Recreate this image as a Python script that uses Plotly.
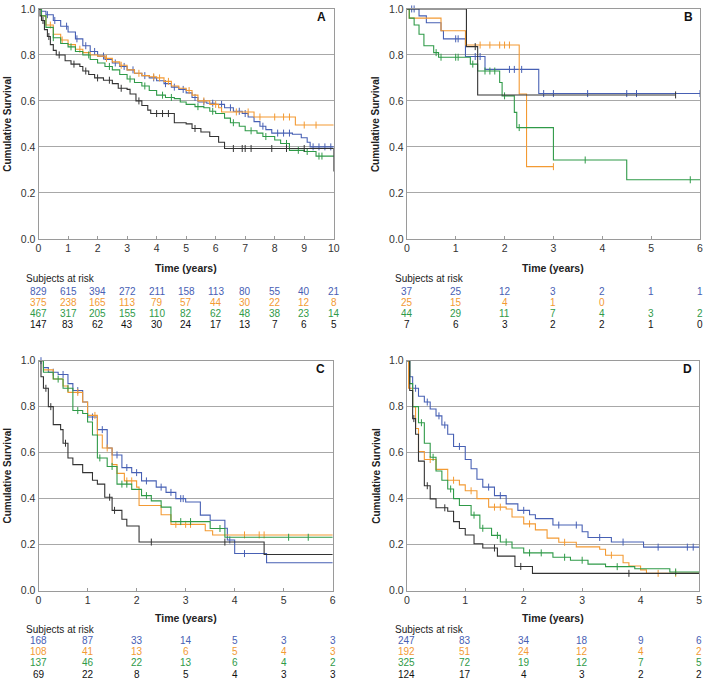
import plotly.graph_objects as go

W, H = 709, 685
BLUE = "#4760B4"
ORANGE = "#F39A33"
GREEN = "#2F9A48"
BLACK = "#333333"
COLORS = [BLUE, ORANGE, GREEN, BLACK]
FONT = "Arial, Liberation Sans, sans-serif"

# ---------------- Panel A ----------------
a_blue_t = [0, 0.1, 0.25, 0.5, 0.75, 1.0, 1.25, 1.5, 1.75, 2.0, 2.25, 2.5, 2.75, 3.0, 3.25, 3.5, 3.75, 4.0, 4.25, 4.5, 4.75, 5.0, 5.2, 5.4, 5.7, 6.0, 6.3, 6.6, 6.9, 7.1, 7.3, 7.5, 7.7, 7.9, 8.6, 8.9, 9.1, 9.2, 10.0]
a_blue_s = [1.0, 0.99, 0.975, 0.95, 0.925, 0.90, 0.87, 0.84, 0.815, 0.795, 0.78, 0.765, 0.75, 0.735, 0.72, 0.71, 0.70, 0.688, 0.675, 0.66, 0.65, 0.635, 0.615, 0.595, 0.59, 0.585, 0.57, 0.555, 0.545, 0.53, 0.51, 0.49, 0.475, 0.46, 0.455, 0.44, 0.42, 0.40, 0.40]
a_blue_c = [0.3, 0.55, 0.95, 1.3, 1.6, 1.9, 2.2, 2.6, 2.9, 3.2, 3.6, 3.9, 4.3, 4.6, 4.9, 5.3, 5.6, 5.9, 6.2, 6.5, 6.8, 7.0, 7.6, 8.1, 8.3, 8.5, 9.3, 9.5, 9.7, 9.9]
a_orange_t = [0, 0.1, 0.25, 0.5, 0.75, 1.0, 1.25, 1.5, 1.75, 2.0, 2.25, 2.5, 2.75, 3.0, 3.25, 3.5, 3.75, 4.0, 4.25, 4.5, 4.75, 5.0, 5.2, 5.4, 5.8, 6.1, 6.2, 7.3, 8.7, 10.0]
a_orange_s = [1.0, 0.97, 0.93, 0.89, 0.865, 0.845, 0.825, 0.81, 0.80, 0.795, 0.785, 0.77, 0.755, 0.735, 0.72, 0.71, 0.705, 0.70, 0.685, 0.665, 0.655, 0.645, 0.625, 0.60, 0.585, 0.57, 0.552, 0.53, 0.495, 0.495]
a_orange_c = [0.4, 0.8, 1.4, 2.3, 2.8, 3.4, 3.9, 4.1, 4.4, 5.1, 5.6, 6.0, 6.7, 7.1, 7.5, 8.0, 8.3, 8.5, 9.0, 9.4]
a_green_t = [0, 0.1, 0.25, 0.5, 0.75, 1.0, 1.25, 1.5, 1.75, 2.0, 2.25, 2.5, 2.75, 3.0, 3.25, 3.5, 3.75, 4.0, 4.3, 4.6, 4.8, 5.0, 5.3, 5.6, 5.8, 6.0, 6.3, 6.5, 6.8, 7.0, 7.4, 7.6, 8.0, 8.2, 8.5, 9.0, 9.4, 10.0]
a_green_s = [1.0, 0.97, 0.92, 0.875, 0.85, 0.835, 0.815, 0.80, 0.78, 0.765, 0.75, 0.735, 0.715, 0.695, 0.68, 0.665, 0.645, 0.625, 0.615, 0.61, 0.595, 0.585, 0.575, 0.57, 0.555, 0.545, 0.525, 0.505, 0.49, 0.47, 0.46, 0.445, 0.43, 0.415, 0.385, 0.38, 0.36, 0.357]
a_green_c = [0.5, 1.1, 1.7, 2.4, 3.1, 3.6, 4.2, 4.5, 5.4, 5.9, 6.6, 7.2, 7.7, 8.4, 8.8, 9.1, 9.5, 9.6]
a_black_t = [0, 0.05, 0.1, 0.2, 0.3, 0.4, 0.5, 0.6, 0.9, 1.1, 1.4, 1.5, 1.7, 1.9, 2.2, 2.5, 2.7, 3.0, 3.1, 3.3, 3.5, 3.7, 3.8, 4.6, 5.0, 5.2, 5.5, 5.8, 6.1, 6.3, 10.0]
a_black_s = [1.0, 0.97, 0.95, 0.91, 0.88, 0.845, 0.82, 0.80, 0.775, 0.76, 0.75, 0.73, 0.715, 0.70, 0.69, 0.675, 0.655, 0.65, 0.63, 0.60, 0.58, 0.56, 0.545, 0.505, 0.50, 0.48, 0.465, 0.445, 0.42, 0.393, 0.293]
a_black_c = [0.15, 0.35, 0.7, 1.2, 1.6, 2.0, 2.4, 2.8, 3.4, 4.0, 4.2, 4.4, 5.3, 6.6, 6.9, 7.0, 7.2, 7.9, 8.4, 9.0]
a_ticks = [0, 1, 2, 3, 4, 5, 6, 7, 8, 9, 10]
a_risk_blue = [829, 615, 394, 272, 211, 158, 113, 80, 55, 40, 21]
a_risk_orange = [375, 238, 165, 113, 79, 57, 44, 30, 22, 12, 8]
a_risk_green = [467, 317, 205, 155, 110, 82, 62, 48, 38, 23, 14]
a_risk_black = [147, 83, 62, 43, 30, 24, 17, 13, 7, 6, 5]

# ---------------- Panel B ----------------
b_blue_t = [0, 0.25, 0.4, 0.7, 0.75, 1.2, 1.6, 2.7, 6.0]
b_blue_s = [1.0, 0.97, 0.94, 0.905, 0.87, 0.793, 0.737, 0.632, 0.632]
b_blue_c = [0.1, 0.15, 1.0, 1.05, 1.4, 1.5, 2.1, 2.2, 2.35, 2.8, 3.0, 3.7, 4.5, 4.7, 6.0]
b_orange_t = [0, 0.05, 0.7, 1.2, 2.3, 2.45, 3.0]
b_orange_s = [1.0, 0.96, 0.905, 0.843, 0.63, 0.314, 0.314]
b_orange_c = [1.5, 1.7, 1.9, 2.0, 2.1, 3.0]
b_green_t = [0, 0.05, 0.15, 0.25, 0.35, 0.55, 0.65, 1.3, 1.45, 1.9, 1.95, 2.2, 2.25, 3.0, 4.5, 6.0]
b_green_s = [1.0, 0.96, 0.93, 0.89, 0.84, 0.81, 0.79, 0.76, 0.73, 0.68, 0.622, 0.55, 0.484, 0.343, 0.257, 0.257]
b_green_c = [0.6, 0.7, 1.0, 1.05, 1.35, 1.6, 1.7, 1.8, 2.0, 2.3, 3.65, 5.8]
b_black_t = [0, 1.22, 1.45, 5.5]
b_black_s = [1.0, 0.836, 0.626, 0.626]
b_black_c = [1.4, 5.5]
b_ticks = [0, 1, 2, 3, 4, 5, 6]
b_risk_blue = [37, 25, 12, 3, 2, 1, 1]
b_risk_orange = [25, 15, 4, 1, 0]
b_risk_green = [44, 29, 11, 7, 4, 3, 2]
b_risk_black = [7, 6, 3, 2, 2, 1, 0]

# ---------------- Panel C ----------------
c_blue_t = [0, 0.1, 0.2, 0.4, 0.6, 0.7, 0.9, 1.0, 1.2, 1.4, 1.5, 1.7, 1.9, 2.1, 2.4, 2.6, 2.8, 3.0, 3.3, 3.5, 3.8, 3.85, 4.0, 4.65, 6.0]
c_blue_s = [1.0, 0.97, 0.95, 0.94, 0.90, 0.87, 0.82, 0.755, 0.70, 0.62, 0.59, 0.535, 0.513, 0.477, 0.45, 0.427, 0.40, 0.385, 0.328, 0.306, 0.271, 0.22, 0.161, 0.121, 0.121]
c_blue_c = [0.05, 0.3, 0.5, 0.8, 1.1, 1.3, 1.6, 1.8, 2.0, 2.2, 2.5, 2.7, 2.9, 2.95, 3.9, 4.2]
c_orange_t = [0, 0.1, 0.3, 0.5, 0.6, 0.9, 1.0, 1.2, 1.3, 1.5, 1.6, 1.75, 2.0, 2.05, 2.5, 2.7, 3.4, 3.55, 6.0]
c_orange_s = [1.0, 0.96, 0.92, 0.89, 0.862, 0.82, 0.762, 0.677, 0.62, 0.548, 0.51, 0.477, 0.45, 0.37, 0.33, 0.288, 0.26, 0.242, 0.242]
c_orange_c = [0.8, 1.15, 1.4, 1.8, 1.9, 2.8, 3.0, 3.1, 4.2, 4.5, 4.6]
c_green_t = [0, 0.1, 0.3, 0.5, 0.7, 0.9, 1.0, 1.1, 1.2, 1.4, 1.6, 1.9, 2.1, 2.3, 2.5, 2.7, 3.5, 3.8, 6.0]
c_green_s = [1.0, 0.95, 0.92, 0.88, 0.783, 0.77, 0.733, 0.677, 0.577, 0.54, 0.463, 0.44, 0.413, 0.39, 0.363, 0.30, 0.27, 0.232, 0.232]
c_green_c = [0.4, 0.6, 0.8, 1.25, 1.5, 1.7, 1.8, 2.2, 2.9, 3.1, 3.7, 5.1, 5.5]
c_black_t = [0, 0.05, 0.1, 0.2, 0.3, 0.45, 0.5, 0.6, 0.7, 0.9, 1.1, 1.2, 1.35, 1.5, 1.7, 1.8, 2.05, 4.6, 6.0]
c_black_s = [1.0, 0.93, 0.88, 0.80, 0.722, 0.70, 0.641, 0.577, 0.548, 0.513, 0.48, 0.463, 0.406, 0.349, 0.31, 0.281, 0.211, 0.157, 0.157]
c_black_c = [0.15, 0.25, 0.55, 1.45, 1.55, 2.3, 3.8]
c_ticks = [0, 1, 2, 3, 4, 5, 6]
c_risk_blue = [168, 87, 33, 14, 5, 3, 3]
c_risk_orange = [108, 41, 13, 6, 5, 4, 3]
c_risk_green = [137, 46, 22, 13, 6, 4, 2]
c_risk_black = [69, 22, 8, 5, 4, 3, 3]

# ---------------- Panel D ----------------
d_blue_t = [0, 0.05, 0.1, 0.2, 0.3, 0.4, 0.5, 0.6, 0.7, 0.8, 1.0, 1.1, 1.2, 1.3, 1.5, 1.7, 1.9, 2.1, 2.2, 2.5, 3.0, 3.1, 3.5, 4.05, 5.0]
d_blue_s = [1.0, 0.93, 0.88, 0.845, 0.82, 0.79, 0.76, 0.72, 0.68, 0.627, 0.57, 0.53, 0.484, 0.45, 0.413, 0.377, 0.349, 0.33, 0.313, 0.285, 0.256, 0.231, 0.211, 0.189, 0.189]
d_blue_c = [0.15, 0.35, 0.55, 0.65, 0.9, 1.4, 1.6, 2.0, 2.6, 2.9, 3.3, 3.7, 4.3, 4.8, 4.9]
d_orange_t = [0, 0.03, 0.1, 0.15, 0.2, 0.3, 0.5, 0.7, 0.9, 1.0, 1.2, 1.4, 1.7, 1.8, 2.0, 2.2, 2.4, 2.6, 2.9, 3.3, 3.4, 3.7, 3.8, 4.0, 4.1, 5.0]
d_orange_s = [1.0, 0.88, 0.80, 0.705, 0.605, 0.57, 0.527, 0.48, 0.46, 0.434, 0.40, 0.363, 0.355, 0.32, 0.29, 0.264, 0.228, 0.21, 0.19, 0.18, 0.154, 0.121, 0.107, 0.09, 0.075, 0.075]
d_orange_c = [0.4, 0.8, 1.1, 1.5, 1.6, 2.1, 2.7, 3.5, 4.3, 4.6]
d_green_t = [0, 0.05, 0.1, 0.2, 0.3, 0.4, 0.5, 0.6, 0.7, 0.8, 0.9, 1.1, 1.25, 1.45, 1.6, 1.8, 2.0, 2.5, 2.8, 3.1, 3.4, 3.9, 4.5, 5.0]
d_green_s = [1.0, 0.90, 0.80, 0.73, 0.641, 0.58, 0.52, 0.48, 0.442, 0.40, 0.37, 0.328, 0.271, 0.24, 0.211, 0.185, 0.164, 0.145, 0.132, 0.115, 0.104, 0.095, 0.081, 0.081]
d_green_c = [0.25, 0.45, 0.75, 1.15, 1.3, 1.55, 1.7, 2.1, 2.3, 2.7, 3.0, 3.6, 4.6]
d_black_t = [0, 0.05, 0.1, 0.15, 0.2, 0.3, 0.4, 0.5, 0.7, 0.8, 0.9, 1.0, 1.15, 1.3, 1.55, 1.85, 2.15, 5.0]
d_black_s = [1.0, 0.87, 0.748, 0.68, 0.563, 0.456, 0.399, 0.36, 0.345, 0.30, 0.27, 0.242, 0.204, 0.185, 0.15, 0.105, 0.075, 0.075]
d_black_c = [0.12, 0.35, 0.65, 1.5, 1.95, 3.8]
d_ticks = [0, 1, 2, 3, 4, 5]
d_risk_blue = [247, 83, 34, 18, 9, 6]
d_risk_orange = [192, 51, 24, 12, 4, 2]
d_risk_green = [325, 72, 19, 12, 7, 5]
d_risk_black = [124, 17, 4, 3, 2, 2]


def step_value(ts, ss, t):
    v = ss[0]
    for ti, si in zip(ts, ss):
        if ti <= t:
            v = si
    return v


panels = [
    dict(name="A", xmax=10, ticks=a_ticks,
         curves=[(a_blue_t, a_blue_s, a_blue_c), (a_orange_t, a_orange_s, a_orange_c),
                 (a_green_t, a_green_s, a_green_c), (a_black_t, a_black_s, a_black_c)],
         risk=[a_risk_blue, a_risk_orange, a_risk_green, a_risk_black],
         px=(36, 335), py=(3, 237), risk_label_x=22, risk_y=(267, 277.5, [291, 302, 313, 324])),
    dict(name="B", xmax=6, ticks=b_ticks,
         curves=[(b_blue_t, b_blue_s, b_blue_c), (b_orange_t, b_orange_s, b_orange_c),
                 (b_green_t, b_green_s, b_green_c), (b_black_t, b_black_s, b_black_c)],
         risk=[b_risk_blue, b_risk_orange, b_risk_green, b_risk_black],
         px=(409, 706), py=(3, 237), risk_label_x=396, risk_y=(267, 277.5, [291, 302, 313, 324])),
    dict(name="C", xmax=6, ticks=c_ticks,
         curves=[(c_blue_t, c_blue_s, c_blue_c), (c_orange_t, c_orange_s, c_orange_c),
                 (c_green_t, c_green_s, c_green_c), (c_black_t, c_black_s, c_black_c)],
         risk=[c_risk_blue, c_risk_orange, c_risk_green, c_risk_black],
         px=(36, 334), py=(361, 595), risk_label_x=22, risk_y=(623, 635, [646, 657, 668.5, 680])),
    dict(name="D", xmax=5, ticks=d_ticks,
         curves=[(d_blue_t, d_blue_s, d_blue_c), (d_orange_t, d_orange_s, d_orange_c),
                 (d_green_t, d_green_s, d_green_c), (d_black_t, d_black_s, d_black_c)],
         risk=[d_risk_blue, d_risk_orange, d_risk_green, d_risk_black],
         px=(409, 705), py=(361, 595), risk_label_x=396, risk_y=(623, 635, [646, 657, 668.5, 680])),
]

fig = go.Figure()
annotations = []
layout_axes = {}


def yp(p):
    return 1 - p / H


for i, p in enumerate(panels):
    k = "" if i == 0 else str(i + 1)
    xa, ya = "x" + k, "y" + k
    for (ts, ss, cs), col in zip(p["curves"], COLORS):
        fig.add_trace(go.Scatter(x=ts, y=ss, mode="lines", line=dict(color=col, width=1.1, shape="hv"),
                                 xaxis=xa, yaxis=ya, showlegend=False, hoverinfo="skip", cliponaxis=False))
        fig.add_trace(go.Scatter(x=cs, y=[step_value(ts, ss, c) for c in cs], mode="markers",
                                 marker=dict(symbol="line-ns", size=5, line=dict(color=col, width=1)),
                                 xaxis=xa, yaxis=ya, showlegend=False, hoverinfo="skip", cliponaxis=False))
    x0, x1 = p["px"]
    y0, y1 = p["py"]
    layout_axes["xaxis" + k] = dict(
        domain=[x0 / W, x1 / W], anchor=ya, range=[0, p["xmax"]], tickvals=p["ticks"],
        showgrid=False, zeroline=False, showline=True, linecolor="#9a9a9a", linewidth=1, mirror=True,
        ticks="inside", ticklen=3, tickcolor="#9a9a9a",
        tickfont=dict(family=FONT, size=10.5, color="#333333"))
    layout_axes["yaxis" + k] = dict(
        domain=[yp(y1), yp(y0)], anchor=xa, range=[0, 1.0], tickvals=[0, 0.2, 0.4, 0.6, 0.8, 1.0],
        tickformat=".1f", showgrid=True, gridcolor="#a8a8a8", gridwidth=1, zeroline=False,
        showline=True, linecolor="#9a9a9a", linewidth=1, mirror=True, ticks="",
        tickfont=dict(family=FONT, size=10.5, color="#333333"))
    # panel letter
    annotations.append(dict(text="<b>%s</b>" % p["name"], xref=xa + " domain", yref=ya + " domain",
                            x=0.96, y=0.965, xanchor="center", yanchor="middle", showarrow=False,
                            font=dict(family=FONT, size=12, color="#111111")))
    # y title
    annotations.append(dict(text="<b>Cumulative Survival</b>", xref="paper", yref=ya + " domain",
                            x=(x0 - 31) / W, y=0.5, textangle=-90, xanchor="center", yanchor="middle",
                            showarrow=False, font=dict(family=FONT, size=10, color="#222222")))
    ty, sy, rows = p["risk_y"]
    annotations.append(dict(text="<b>Time (years)</b>", xref=xa + " domain", yref="paper",
                            x=0.5, y=yp(ty), xanchor="center", yanchor="middle", showarrow=False,
                            font=dict(family=FONT, size=10.5, color="#222222")))
    annotations.append(dict(text="Subjects at risk", xref="paper", yref="paper",
                            x=p["risk_label_x"] / W, y=yp(sy), xanchor="left", yanchor="middle",
                            showarrow=False, borderpad=0, font=dict(family=FONT, size=10, color="#222222")))
    for vals, col, ry in zip(p["risk"], COLORS, rows):
        for t, v in zip(p["ticks"], vals):
            annotations.append(dict(text=str(v), xref=xa, yref="paper", x=t, y=yp(ry),
                                    xanchor="center", yanchor="middle", showarrow=False, borderpad=0,
                                    font=dict(family=FONT, size=10, color=col if col != BLACK else "#111111")))

fig.update_layout(width=W, height=H, margin=dict(l=0, r=0, t=0, b=0), plot_bgcolor="white",
                  paper_bgcolor="white", showlegend=False, annotations=annotations, **layout_axes)
fig.write_html("out.html", config={"displayModeBar": False},
               post_script="document.body.style.margin='0';document.body.style.overflow='hidden';")
